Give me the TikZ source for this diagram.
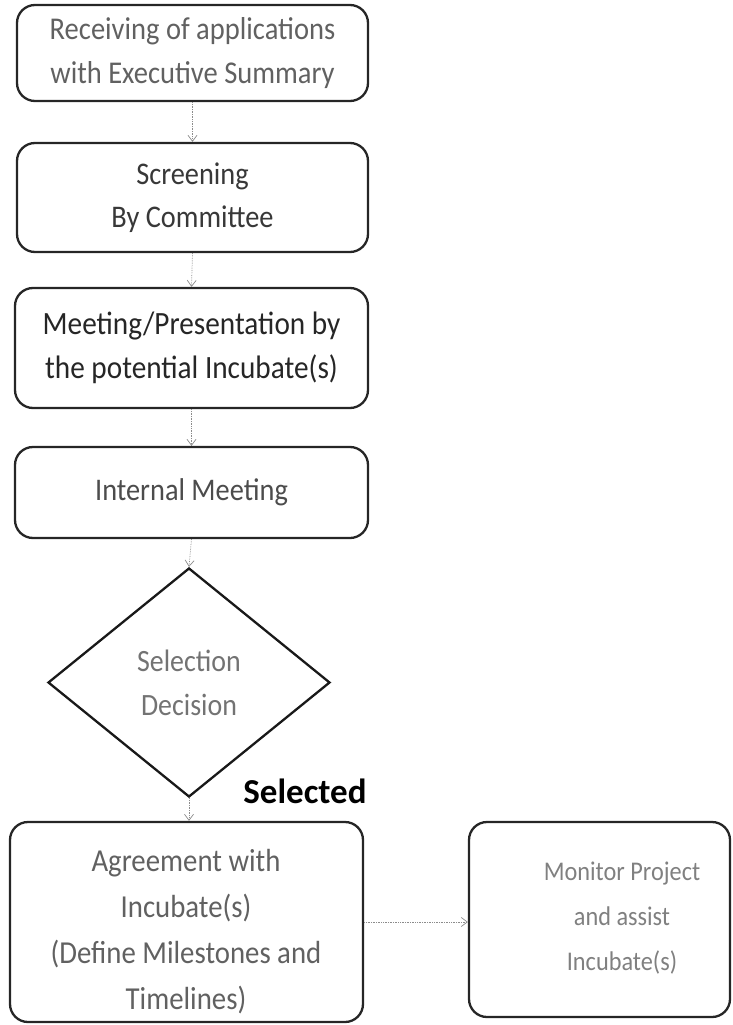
\documentclass[tikz,border=0pt]{standalone}
\usepackage{fontspec}
\setmainfont{Carlito}
\newfontfamily\tallfont[FakeStretch=0.9]{Carlito}
\usetikzlibrary{shapes.geometric,arrows.meta}
\begin{document}
\begin{tikzpicture}[x=1pt,y=-1pt,
  box/.style={draw=black!85,line width=2.3pt,rounded corners=18pt,align=center,inner sep=0pt},
  txt/.style={align=center,inner sep=0pt},
  conn/.style={draw=black!45,line width=0.7pt,densely dotted,
    -{Straight Barb[length=6pt,width=9pt]}}]
\useasboundingbox (0,0) rectangle (733,1025);
\node[box,text=black!62,minimum width=351,minimum height=96,font=\tallfont\fontsize{31.7}{44}\selectfont] (b1) at (192.5,53) {Receiving of applications\\with Executive Summary};
\node[box,text=black!78,minimum width=351,minimum height=109,font=\tallfont\fontsize{31.5}{43}\selectfont] (b2) at (192.5,197.5) {Screening\\By Committee};
\node[box,text=black!85,minimum width=353,minimum height=120,font=\tallfont\fontsize{32.5}{44}\selectfont] (b3) at (191.5,348) {Meeting/Presentation by\\the potential Incubate(s)};
\node[box,text=black!70,minimum width=353,minimum height=91,font=\tallfont\fontsize{31.5}{44}\selectfont] (b4) at (191.5,492.5) {Internal Meeting};
\node[diamond,draw=black!90,line width=2.3pt,minimum width=282,minimum height=229,inner sep=0pt,
  align=center,text=black!55,font=\tallfont\fontsize{31}{44}\selectfont] (dec) at (189,682.5) {Selection\\Decision};
\node[font=\fontsize{35}{40}\selectfont\bfseries,text=black,anchor=base,inner sep=0pt] (sel) at (305,803) {Selected};
\node[box,minimum width=353,minimum height=200] (b5) at (186.5,922) {};
\node[txt,text=black!62,font=\tallfont\fontsize{32}{46}\selectfont] (b5t) at (186,932) {Agreement with\\Incubate(s)\\(Define Milestones and\\Timelines)};
\node[box,minimum width=261,minimum height=195] (b6) at (599.5,919.5) {};
\node[txt,text=black!50,font=\tallfont\fontsize{27}{45}\selectfont] (b6t) at (622,918) {Monitor Project\\and assist\\Incubate(s)};
\draw[conn] (b1.south) -- (b2.north);
\draw[conn] (b2.south) -- (b3.north);
\draw[conn] (b3.south) -- (b4.north);
\draw[conn] (b4.south) -- (dec.north);
\draw[conn] (dec.south) -- (dec.south |- b5.north);
\draw[conn] (b5.east |- 0,922) -- (b6.west |- 0,922);
\end{tikzpicture}
\end{document}
